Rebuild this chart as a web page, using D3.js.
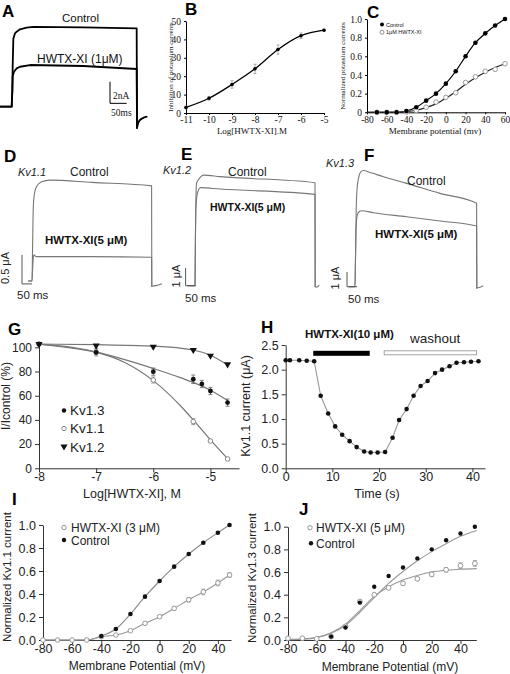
<!DOCTYPE html>
<html><head><meta charset="utf-8">
<script src="https://cdn.jsdelivr.net/npm/d3@7/dist/d3.min.js"></script>
<style>html,body{margin:0;padding:0;background:#fff}svg{display:block}</style>
</head><body>
<svg id="fig" width="510" height="674"></svg>
<script>
// ================= DATA =================
// A: whole-cell current traces [time ms, current nA]
const aControl = [[0,0],[35,0],[37,1.5],[38,3.7],[40,6.3],[45,6.8],[50,6.95],[60,7.17],[80,7.33],[100,7.4],[250,7.35],[410,7.26],[411,-1.95]];
const aToxin   = [[0,0],[35,0],[37,1.5],[38,2.8],[42,3.24],[50,3.55],[60,3.7],[90,3.86],[250,3.77],[410,3.49],[411,-1.95]];
const aTail    = [[411,-1.95],[413,-1.7],[416,-1.4],[420,-1.2],[428,-1.05],[440,-0.93]];

// B: dose-response
const bLogConc = [-11,-10,-9,-8,-7,-6,-5];
const bInhib   = [3,8,15.5,24,34.5,42,45];
const bErr     = [0.8,1,2,2.5,2.5,1.5,0.5];
const bXTicks  = [-11,-10,-9,-8,-7,-6,-5];
const bYTicks  = [0,10,20,30,40,50];

// C: normalized I-V
const cVoltage = [-70,-60,-50,-40,-30,-20,-10,0,10,20,30,40,50,60];
const cControl = [0,0,0,0.014,0.054,0.125,0.2,0.307,0.44,0.6,0.746,0.846,0.93,1.0];
const cToxin   = [0,0,0,0.005,0.02,0.055,0.11,0.16,0.21,0.32,0.38,0.44,0.46,0.52];
const cToxinFit = [[-80,0],[-50,0.002],[-40,0.008],[-30,0.022],[-20,0.05],[-10,0.09],[0,0.15],[10,0.22],[20,0.3],[30,0.37],[40,0.43],[50,0.48],[60,0.52]];
const cXTicks = [-80,-60,-40,-20,0,20,40,60];
const cYTicks = [0,0.2,0.4,0.6,0.8,1.0];

// D, E, F: oocyte traces [time ms from step, current uA]
const dControl = [[-18,0],[0,0],[3,0.6],[6.5,1.28],[12,1.5],[23,1.63],[48,1.71],[90,1.74],[300,1.7],[598,1.64],[599,-0.09]];
const dToxin   = [[-18,0],[0,0],[3,0.2],[6,0.38],[10,0.45],[20,0.42],[56,0.42],[300,0.42],[598,0.41],[599,-0.09]];
const dTail    = [[599,-0.09],[620,-0.08],[648,-0.05]];
const eControl = [[-35,0],[0,0],[2,2.5],[4,4.6],[8,5.8],[25,6.1],[42,6.25],[125,6.16],[600,5.82],[601,-0.06]];
const eToxin   = [[-35,0],[0,0],[2,2.5],[4,4.3],[12,5.22],[28,5.54],[125,5.46],[600,5.16],[601,-0.06]];
const eTail    = [[601,-0.06],[610,-0.08],[620,0.02]];
const fControl = [[-30,0],[0,0],[3,2.5],[6,5.2],[10,6.6],[18,7.4],[28,7.8],[42,7.9],[80,7.75],[142,7.48],[258,7.03],[425,6.35],[608,5.67],[609,-0.09]];
const fToxin   = [[-30,0],[0,0],[3,2.3],[6,4.2],[12,4.9],[22,5.12],[33,5.17],[92,5.03],[258,4.76],[425,4.47],[608,4.13],[609,-0.09]];
const fTail    = [[609,-0.09],[620,-0.06],[640,0.05]];

// G: concentration-response for Kv1.x
const gConcKv12 = [-8,-7,-6,-5.3,-5,-4.7];
const gKv12     = [102.7,101.4,100.5,97.8,93.1,86];
const gConcKv13 = [-8,-7,-6,-5.3,-5.15,-5,-4.7];
const gKv13     = [102.7,95.9,79.9,73.6,69.7,63.9,54.3];
const gKv13Err  = [0,2,3,3.5,3,3,3];
const gConcKv11 = [-8,-7,-6,-5.3,-5,-4.7];
const gKv11     = [102.7,95.9,73,38.6,22.6,7.7];
const gKv11Err  = [0,3,2.5,2.5,1,1];
const gFitKv12 = [[-8,102.6],[-7,102.2],[-6,101],[-5.5,99.2],[-5.3,97.8],[-5,93.5],[-4.7,85.5]];
const gFitKv13 = [[-8,102.6],[-7,96],[-6,82.5],[-5.5,74.5],[-5.3,71],[-5,64.5],[-4.7,56]];
const gFitKv11 = [[-8,102.6],[-7,96],[-6.5,87.5],[-6,72.5],[-5.5,50.5],[-5.3,40],[-5,23.5],[-4.7,8]];
const gXTicks = [-8,-7,-6,-5];
const gYTicks = [0,20,40,60,80,100];

// H: time course
const hTime    = [0,0.9,2.9,4.5,6.1,7.5,9.1,10.6,12.1,13.7,15.2,16.8,18.2,19.7,21.3,22.9,24.3,25.9,27.4,28.9,30.4,32,33.5,35.1,36.6,38.2,39.7,41.3];
const hCurrent = [2.19,2.19,2.19,2.18,2.17,1.47,1.11,0.85,0.68,0.55,0.43,0.34,0.32,0.32,0.33,0.62,0.98,1.2,1.47,1.67,1.77,1.93,2.0,2.07,2.14,2.15,2.16,2.17];
const hToxinPeriod   = [5.9,18];
const hWashoutPeriod = [21.1,40.9];
const hXTicks = [0,10,20,30,40];
const hYTicks = [0,0.5,1.0,1.5,2.0,2.5];

// I: Kv1.1 I-V
const iVoltage = [-80,-70,-60,-50,-40,-30,-20,-10,0,10,20,30,40,48];
const iControl = [0,0,0,0,0.035,0.096,0.226,0.377,0.513,0.638,0.748,0.846,0.933,1.0];
const iToxin   = [0,0,0,0,0.029,0.043,0.081,0.145,0.203,0.275,0.35,0.418,0.496,0.565];
const iToxinErr= [0,0,0,0,0,0,0,0.01,0.01,0.015,0.02,0.025,0.025,0.02];
const iXTicks = [-80,-60,-40,-20,0,20,40];
const iYTicks = [0,0.2,0.4,0.6,0.8,1.0];

// J: Kv1.3 I-V
const jVoltage = [-80,-70,-60,-50,-40,-30,-20,-10,0,10,20,30,40,50];
const jControl = [0,0,0.005,0.03,0.11,0.33,0.47,0.565,0.64,0.72,0.8,0.88,0.94,1.0];
const jToxin   = [0.015,0.015,0.01,0.03,0.12,0.34,0.40,0.46,0.50,0.54,0.58,0.62,0.656,0.676];
const jToxinErr= [0,0,0,0,0,0.01,0.01,0.01,0.015,0.015,0.02,0.02,0.025,0.025];
const jFitControl = [[-80,0.002],[-70,0.006],[-60,0.02],[-50,0.06],[-40,0.13],[-30,0.245],[-20,0.375],[-10,0.5],[0,0.605],[10,0.7],[20,0.78],[30,0.85],[40,0.915],[51,0.965]];
const jFitToxin   = [[-80,0.005],[-70,0.01],[-60,0.025],[-50,0.065],[-40,0.14],[-30,0.26],[-20,0.385],[-10,0.47],[0,0.53],[10,0.57],[20,0.6],[30,0.615],[40,0.625],[51,0.63]];
const jXTicks = [-80,-60,-40,-20,0,20,40];
const jYTicks = [0,0.2,0.4,0.6,0.8,1.0];

// ================= DRAWING =================
const svg = d3.select("#fig");
const SANS = "'Liberation Sans', Arial, sans-serif";
const SERIF = "'Liberation Serif', 'Times New Roman', serif";

function txt(x, y, s, o = {}) {
  const t = svg.append("text").attr("x", x).attr("y", y).text(s)
    .attr("font-family", o.font || SANS).attr("font-size", o.size || 12)
    .attr("fill", o.fill || "#111");
  if (o.weight) t.attr("font-weight", o.weight);
  if (o.style) t.attr("font-style", o.style);
  if (o.anchor) t.attr("text-anchor", o.anchor);
  if (o.rotate) t.attr("transform", `rotate(-90,${x},${y})`);
  return t;
}
function letter(s, x, y) { txt(x, y, s, {size: 17, weight: "bold", fill: "#000"}); }

function axes(x, y, o) {
  const color = o.color || "#000";
  const gx = svg.append("g").attr("transform", `translate(0,${y.range()[0]})`)
    .call(d3.axisBottom(x).tickValues(o.xTicks).tickFormat(o.xFmt).tickSize(o.tick).tickSizeOuter(0).tickPadding(o.padX));
  const gy = svg.append("g").attr("transform", `translate(${x.range()[0]},0)`)
    .call(d3.axisLeft(y).tickValues(o.yTicks).tickFormat(o.yFmt).tickSize(o.tick).tickSizeOuter(0).tickPadding(o.padY));
  for (const g of [gx, gy]) {
    g.select(".domain").attr("stroke", color).attr("stroke-width", o.lw || 1);
    g.selectAll(".tick line").attr("stroke", color);
    g.selectAll(".tick text").attr("font-family", o.font).attr("font-size", o.size).attr("fill", o.textColor || "#111");
  }
}
function path(data, x, y, color, w, curve) {
  svg.append("path").datum(data)
    .attr("d", d3.line().x(d => x(d[0])).y(d => y(d[1])).curve(curve || d3.curveMonotoneX))
    .attr("fill", "none").attr("stroke", color).attr("stroke-width", w)
    .attr("stroke-linejoin", "round").attr("stroke-linecap", "round");
}
function errBars(xs, ys, es, x, y, color, cap) {
  xs.forEach((v, i) => {
    if (!es[i]) return;
    const cx = x(v), y1 = y(ys[i] - es[i]), y2 = y(ys[i] + es[i]);
    svg.append("line").attr("x1", cx).attr("x2", cx).attr("y1", y1).attr("y2", y2).attr("stroke", color).attr("stroke-width", 0.8);
    [y1, y2].forEach(yy => svg.append("line").attr("x1", cx - cap).attr("x2", cx + cap).attr("y1", yy).attr("y2", yy).attr("stroke", color).attr("stroke-width", 0.8));
  });
}
function dots(xs, ys, x, y, r, fill, stroke, sw) {
  xs.forEach((v, i) => svg.append("circle").attr("cx", x(v)).attr("cy", y(ys[i])).attr("r", r)
    .attr("fill", fill).attr("stroke", stroke || "none").attr("stroke-width", sw || 0));
}
const zip = (a, b) => a.map((v, i) => [v, b[i]]);

// ---------- A ----------
{
  const x = d3.scaleLinear([0, 450], [0, 150]);
  const y = d3.scaleLinear([0, 7.4], [106.7, 26.8]);
  path(aControl, x, y, "#000", 1.8, d3.curveLinear);
  path(aToxin, x, y, "#000", 1.8, d3.curveLinear);
  path(aTail, x, y, "#000", 1.8, d3.curveBasis);
  svg.append("path").attr("d", d3.line()([[x(330), y(2.31)], [x(330), y(0.31)], [x(380), y(0.31)]]))
    .attr("fill", "none").attr("stroke", "#000").attr("stroke-width", 1);
  txt(113, 99, "2nA", {font: SERIF, size: 9.5});
  txt(111, 116, "50ms", {font: SERIF, size: 9.5});
  txt(62, 22, "Control", {size: 11.5});
  txt(37, 63, "HWTX-XI (1\u03bcM)", {size: 12});
  letter("A", 2, 17);
}

// ---------- B ----------
{
  const x = d3.scaleLinear([-11, -5], [186, 324]);
  const y = d3.scaleLinear([0, 50], [113, 21]);
  axes(x, y, {xTicks: bXTicks, yTicks: bYTicks, xFmt: d => String(d), yFmt: d => String(d),
    tick: 2, padX: 1.5, padY: 3, font: SERIF, size: 9.5});
  errBars(bLogConc, bInhib, bErr, x, y, "#999", 1.5);
  path(zip(bLogConc, bInhib), x, y, "#000", 1.3);
  dots(bLogConc, bInhib, x, y, 1.8, "#000");
  txt(173, 67, "Inhibition of potassium currents", {font: SERIF, size: 7, anchor: "middle", rotate: true});
  txt(252, 134, "Log[HWTX-XI].M", {font: SERIF, size: 9, anchor: "middle"});
  letter("B", 185, 15);
}

// ---------- C ----------
{
  const x = d3.scaleLinear([-80, 60], [367, 505]);
  const y = d3.scaleLinear([0, 1], [112.3, 19]);
  axes(x, y, {xTicks: cXTicks, yTicks: cYTicks, xFmt: d => String(d), yFmt: d => d === 0 ? "0" : d.toFixed(1),
    tick: 2, padX: 1.5, padY: 3, font: SERIF, size: 9.5});
  path([[-80, 0], ...zip(cVoltage, cControl)], x, y, "#000", 1.2);
  path(cToxinFit, x, y, "#222", 1.2);
  dots(cVoltage, cToxin, x, y, 2.3, "#fff", "#999", 1);
  dots(cVoltage, cControl, x, y, 2.3, "#000");
  svg.append("circle").attr("cx", 382).attr("cy", 24.5).attr("r", 2).attr("fill", "#000");
  svg.append("circle").attr("cx", 382).attr("cy", 32.3).attr("r", 2).attr("fill", "#fff").attr("stroke", "#777").attr("stroke-width", 0.8);
  txt(386, 26.5, "Control", {size: 5.5});
  txt(386, 34.3, "1\u03bcM HWTX-XI", {size: 5.5});
  txt(345, 66, "Normalized potassium currents", {font: SERIF, size: 7, anchor: "middle", rotate: true});
  txt(435, 134, "Membrane potential (mv)", {font: SERIF, size: 9, anchor: "middle"});
  letter("C", 367, 18);
}

// ---------- D ----------
{
  const x = d3.scaleLinear([0, 100], [32, 52]);
  const y = d3.scaleLinear([0, 1], [281, 223]);
  path(dControl, x, y, "#777", 1.1);
  path(dToxin, x, y, "#777", 1.1);
  path(dTail, x, y, "#777", 1.1);
  svg.append("path").attr("d", d3.line()([[x(-50), y(0.45)], [x(-50), y(-0.05)], [x(0), y(-0.05)]]))
    .attr("fill", "none").attr("stroke", "#555").attr("stroke-width", 1);
  txt(9, 268, "0.5 \u03bcA", {size: 11, anchor: "middle", rotate: true, fill: "#222"});
  txt(17, 299, "50 ms", {size: 11.5, fill: "#222"});
  txt(18, 176, "Kv1.1", {size: 11, style: "italic", fill: "#222"});
  txt(70, 176, "Control", {size: 12, fill: "#222"});
  txt(45, 244, "HWTX-XI(5 \u03bcM)", {size: 11.5, weight: "bold", fill: "#111"});
  letter("D", 4, 162);
}

// ---------- E ----------
{
  const x = d3.scaleLinear([0, 100], [195, 215]);
  const y = d3.scaleLinear([0, 1], [285.7, 268]);
  path(eControl, x, y, "#777", 1.1);
  path(eToxin, x, y, "#777", 1.1);
  path(eTail, x, y, "#777", 1.1);
  svg.append("path").attr("d", d3.line()([[x(-47), y(1)], [x(-47), y(0)], [x(3), y(0)]]))
    .attr("fill", "none").attr("stroke", "#555").attr("stroke-width", 1);
  txt(180, 276, "1 \u03bcA", {size: 11, anchor: "middle", rotate: true, fill: "#222"});
  txt(185, 302, "50 ms", {size: 11.5, fill: "#222"});
  txt(163, 174, "Kv1.2", {size: 11, style: "italic", fill: "#222"});
  txt(228, 176, "Control", {size: 12, fill: "#222"});
  txt(210, 211, "HWTX-XI(5 \u03bcM)", {size: 10.5, weight: "bold", fill: "#111"});
  letter("E", 181, 160);
}

// ---------- F ----------
{
  const x = d3.scaleLinear([0, 100], [355, 375]);
  const y = d3.scaleLinear([0, 1], [286.7, 272]);
  path(fControl, x, y, "#777", 1.1);
  path(fToxin, x, y, "#777", 1.1);
  path(fTail, x, y, "#777", 1.1);
  svg.append("path").attr("d", d3.line()([[x(-40), y(1)], [x(-40), y(0)], [x(10), y(0)]]))
    .attr("fill", "none").attr("stroke", "#555").attr("stroke-width", 1);
  txt(339, 278, "1 \u03bcA", {size: 11, anchor: "middle", rotate: true, fill: "#222"});
  txt(348, 303, "50 ms", {size: 11.5, fill: "#222"});
  txt(326, 167, "Kv1.3", {size: 11, style: "italic", fill: "#222"});
  txt(407, 185, "Control", {size: 12, fill: "#222"});
  txt(375, 238, "HWTX-XI(5 \u03bcM)", {size: 11.5, weight: "bold", fill: "#111"});
  letter("F", 364, 161);
}

// ---------- G ----------
{
  const x = d3.scaleLinear([-8, -4.5], [39, 239]);
  const y = d3.scaleLinear([0, 104], [468.3, 342.5]);
  axes(x, y, {xTicks: gXTicks, yTicks: gYTicks, xFmt: d => String(d), yFmt: d => String(d),
    tick: 4, padX: 0, padY: 3, font: SANS, size: 12, color: "#333", textColor: "#222"});
  path(gFitKv12, x, y, "#777", 1.2);
  path(gFitKv13, x, y, "#777", 1.2);
  path(gFitKv11, x, y, "#777", 1.2);
  errBars(gConcKv13, gKv13, gKv13Err, x, y, "#666", 2);
  errBars(gConcKv11, gKv11, gKv11Err, x, y, "#888", 2);
  dots(gConcKv11, gKv11, x, y, 2.3, "#fff", "#888", 1);
  dots(gConcKv13, gKv13, x, y, 2.4, "#111");
  const tri = d3.symbol(d3.symbolTriangle, 22);
  gConcKv12.forEach((v, i) => svg.append("path").attr("d", tri())
    .attr("transform", `translate(${x(v)},${y(gKv12[i])}) rotate(180)`).attr("fill", "#111"));
  svg.append("circle").attr("cx", 64).attr("cy", 410.5).attr("r", 2.2).attr("fill", "#111");
  svg.append("circle").attr("cx", 64).attr("cy", 428.5).attr("r", 2.2).attr("fill", "#fff").attr("stroke", "#888");
  svg.append("path").attr("d", tri()).attr("transform", "translate(64,446.5) rotate(180)").attr("fill", "#111");
  txt(70, 415, "Kv1.3", {size: 13.5, fill: "#222"});
  txt(70, 433, "Kv1.1", {size: 13.5, fill: "#222"});
  txt(70, 451.5, "Kv1.2", {size: 13.5, fill: "#222"});
  txt(10, 396, "I/Icontrol (%)", {size: 12, anchor: "middle", rotate: true, fill: "#222"});
  txt(132, 497.5, "Log[HWTX-XI], M", {size: 12.5, anchor: "middle", fill: "#222"});
  letter("G", 8, 335);
}

// ---------- H ----------
{
  const x = d3.scaleLinear([0, 42.7], [285.7, 485]);
  const y = d3.scaleLinear([0, 2.5], [468.3, 345]);
  axes(x, y, {xTicks: hXTicks, yTicks: hYTicks, xFmt: d => String(d), yFmt: d3.format(".1f"),
    tick: 4, padX: 0, padY: 3, font: SANS, size: 12.5, color: "#333", textColor: "#222"});
  svg.append("rect").attr("x", x(hToxinPeriod[0])).attr("width", x(hToxinPeriod[1]) - x(hToxinPeriod[0]))
    .attr("y", 350.8).attr("height", 5).attr("fill", "#000");
  svg.append("rect").attr("x", x(hWashoutPeriod[0])).attr("width", x(hWashoutPeriod[1]) - x(hWashoutPeriod[0]))
    .attr("y", 350.8).attr("height", 4).attr("fill", "#fff").attr("stroke", "#999").attr("stroke-width", 0.9);
  path(zip(hTime, hCurrent), x, y, "#999", 1.1, d3.curveLinear);
  dots(hTime, hCurrent, x, y, 2.3, "#111");
  txt(305, 338, "HWTX-XI(10 \u03bcM)", {size: 11.5, weight: "bold", fill: "#111"});
  txt(410, 343, "washout", {size: 13.5, fill: "#222"});
  txt(250, 406, "Kv1.1 current (\u03bcA)", {size: 12.5, anchor: "middle", rotate: true, fill: "#222"});
  txt(377, 497.5, "Time (s)", {size: 12.5, anchor: "middle", fill: "#222"});
  letter("H", 261, 333);
}

// ---------- I ----------
{
  const x = d3.scaleLinear([-80, 49], [43, 231]);
  const y = d3.scaleLinear([0, 1], [640, 525]);
  axes(x, y, {xTicks: iXTicks, yTicks: iYTicks, xFmt: d => String(d), yFmt: d3.format(".1f"),
    tick: 4, padX: 0.5, padY: 3, font: SANS, size: 12.5, color: "#333", textColor: "#222"});
  path(zip(iVoltage, iControl), x, y, "#888", 1.1);
  path(zip(iVoltage, iToxin), x, y, "#999", 1.1);
  errBars(iVoltage, iToxin, iToxinErr, x, y, "#999", 2);
  dots(iVoltage, iToxin, x, y, 2.3, "#fff", "#999", 1);
  dots(iVoltage.slice(4), iControl.slice(4), x, y, 2.3, "#111");
  svg.append("circle").attr("cx", 64).attr("cy", 527.5).attr("r", 2.2).attr("fill", "#fff").attr("stroke", "#999");
  svg.append("circle").attr("cx", 64).attr("cy", 540).attr("r", 2.2).attr("fill", "#111");
  txt(71, 532, "HWTX-XI (3 \u03bcM)", {size: 12, fill: "#222"});
  txt(71, 545, "Control", {size: 12, fill: "#222"});
  txt(11, 577, "Normalized Kv1.1 current", {size: 11.5, anchor: "middle", rotate: true, fill: "#222"});
  txt(137, 670, "Membrane Potential (mV)", {size: 12, anchor: "middle", fill: "#222"});
  letter("I", 12, 505);
}

// ---------- J ----------
{
  const x = d3.scaleLinear([-80, 51], [288, 476.3]);
  const y = d3.scaleLinear([0, 1], [640, 526.7]);
  axes(x, y, {xTicks: jXTicks, yTicks: jYTicks, xFmt: d => String(d), yFmt: d3.format(".1f"),
    tick: 4, padX: 0.5, padY: 3, font: SANS, size: 12.5, color: "#333", textColor: "#222"});
  path(jFitControl, x, y, "#999", 1.1);
  path(jFitToxin, x, y, "#999", 1.1);
  errBars(jVoltage, jToxin, jToxinErr, x, y, "#999", 2);
  dots(jVoltage, jToxin, x, y, 2.4, "#fff", "#999", 1);
  dots(jVoltage.slice(3), jControl.slice(3), x, y, 2.2, "#111");
  svg.append("circle").attr("cx", 310).attr("cy", 527.7).attr("r", 2.2).attr("fill", "#fff").attr("stroke", "#999");
  svg.append("circle").attr("cx", 311).attr("cy", 543.3).attr("r", 2.2).attr("fill", "#111");
  txt(316, 532, "HWTX-XI (5 \u03bcM)", {size: 12, fill: "#222"});
  txt(316, 548, "Control", {size: 12, fill: "#222"});
  txt(256, 578, "Normalized Kv1.3 current", {size: 11.5, anchor: "middle", rotate: true, fill: "#222"});
  txt(390, 671, "Membrane Potential (mV)", {size: 12, anchor: "middle", fill: "#222"});
  letter("J", 299, 515);
}
</script>
</body></html>
